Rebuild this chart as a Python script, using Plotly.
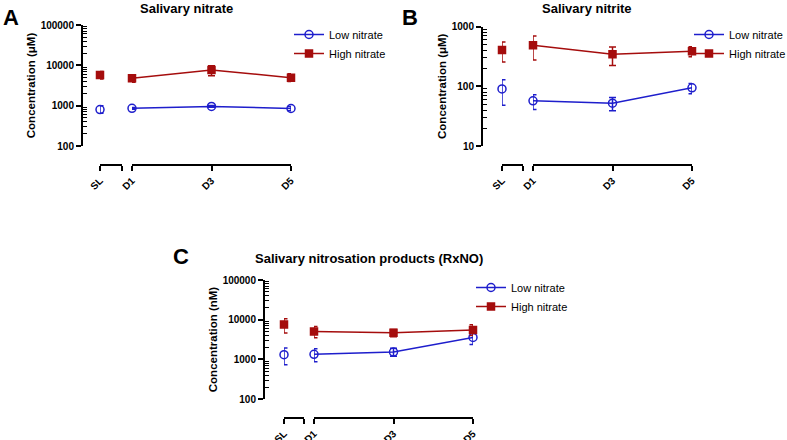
import plotly.graph_objects as go

W, H = 787, 440

# x categories: SL sits on its own short axis, D1-D5 on the main one
sl_label = ["SL"]
sl_x = [0]
day_labels = ["D1", "D3", "D5"]
day_x = [1, 3, 5]

# values in order SL, D1, D3, D5 (mean, upper and lower end of error bar)
nitrate_low = [800, 860, 960, 850]
nitrate_low_hi = [1000, 900, 1010, 960]
nitrate_low_lo = [650, 820, 910, 750]
nitrate_high = [5750, 4760, 7660, 4950]
nitrate_high_hi = [7000, 5750, 9800, 6200]
nitrate_high_lo = [4600, 3800, 5500, 3950]

nitrite_low = [90, 57, 52, 94]
nitrite_low_hi = [129, 72, 65, 111]
nitrite_low_lo = [48, 41, 39, 75]
nitrite_high = [404, 485, 342, 384]
nitrite_high_hi = [552, 696, 454, 460]
nitrite_high_lo = [254, 274, 223, 312]

rxno_low = [1310, 1335, 1527, 3565]
rxno_low_hi = [1925, 1850, 1890, 4670]
rxno_low_lo = [735, 874, 1190, 2380]
rxno_high = [7570, 5040, 4670, 5450]
rxno_high_hi = [10500, 6730, 5660, 7420]
rxno_high_lo = [4580, 3500, 3710, 4000]

ticks_a = [100, 1000, 10000, 100000]
ticks_b = [10, 100, 1000]
ticks_c = [100, 1000, 10000, 100000]

BLUE = "#1E1ECC"
RED = "#A50D0D"
FONT = "Liberation Sans, Arial, sans-serif"


def fx(px):
    return px / W


def fy(py):
    return 1 - py / H


def minor_vals(majors):
    out = []
    for m in majors[:-1]:
        out += [m * k for k in range(2, 10)]
    return out


fig = go.Figure()
layout = {}

panels = [
    # n, letter, title, ytitle, ticks, data, geometry (px)
    dict(n=1, letter="A", title="Salivary nitrate", ytitle="Concentration (μM)", ticks=ticks_a,
         low=(nitrate_low, nitrate_low_hi, nitrate_low_lo),
         high=(nitrate_high, nitrate_high_hi, nitrate_high_lo),
         yx=82, ytop=25, ybot=146, xaxy=165, sl=(100, 122), d=(132, 291),
         legx=289, legy=20, letx=1, lety=3, tx=186, ty=8),
    dict(n=2, letter="B", title="Salivary nitrite", ytitle="Concentration (μM)", ticks=ticks_b,
         low=(nitrite_low, nitrite_low_hi, nitrite_low_lo),
         high=(nitrite_high, nitrite_high_hi, nitrite_high_lo),
         yx=482, ytop=26.5, ybot=146, xaxy=165, sl=(502, 523), d=(533, 692),
         legx=689, legy=20, letx=400, lety=3, tx=587, ty=8),
    dict(n=3, letter="C", title="Salivary nitrosation products (RxNO)", ytitle="Concentration (nM)", ticks=ticks_c,
         low=(rxno_low, rxno_low_hi, rxno_low_lo),
         high=(rxno_high, rxno_high_hi, rxno_high_lo),
         yx=264, ytop=280, ybot=399, xaxy=418, sl=(284, 304), d=(314, 473),
         legx=471, legy=273, letx=171, lety=242, tx=369, ty=258),
]

annotations = []
for p in panels:
    n = p["n"]
    ya = "y" if n == 1 else f"y{n}"
    xs = f"x{2 * n - 1}" if n > 1 else "x"
    xd = f"x{2 * n}"
    leg = "legend" if n == 1 else f"legend{n}"

    for name, (mean, hi, lo), color, sym in [
        ("Low nitrate", p["low"], BLUE, "circle-open"),
        ("High nitrate", p["high"], RED, "square"),
    ]:
        err = dict(type="data", symmetric=False, thickness=1.5, width=3.5, color=color)
        marker = dict(symbol=sym, size=8 if sym == "circle-open" else 7, color=color,
                      line=dict(width=1.5, color=color))
        fig.add_trace(go.Scatter(
            x=sl_x, y=mean[:1], xaxis=xs, yaxis=ya, mode="markers",
            marker=marker, cliponaxis=False, showlegend=False,
            error_y=dict(err, array=[hi[0] - mean[0]], arrayminus=[mean[0] - lo[0]]),
        ))
        fig.add_trace(go.Scatter(
            x=day_x, y=mean[1:], xaxis=xd, yaxis=ya, mode="lines+markers", name=name,
            marker=marker, line=dict(color=color, width=1.5), cliponaxis=False, legend=leg,
            error_y=dict(err, array=[h - m for h, m in zip(hi[1:], mean[1:])],
                         arrayminus=[m - l for m, l in zip(mean[1:], lo[1:])]),
        ))

    t = p["ticks"]
    layout["yaxis" if n == 1 else f"yaxis{n}"] = dict(
        type="log", range=[len(str(t[0])) - 1, len(str(t[-1])) - 1],
        domain=[fy(p["ybot"]), fy(p["ytop"])], anchor="free", position=fx(p["yx"]),
        automargin=False,
        showline=True, linewidth=2, linecolor="black", showgrid=False, zeroline=False,
        ticks="outside", ticklen=5, tickwidth=2, tickcolor="black",
        tickmode="array", tickvals=t, ticktext=[str(v) for v in t],
        tickfont=dict(family=FONT, size=10, color="black", weight="bold"),
        minor=dict(ticks="inside", ticklen=4, tickwidth=1.2, tickcolor="black",
                   tickvals=minor_vals(t), showgrid=False),
        title=dict(text=p["ytitle"], standoff=2,
                   font=dict(family=FONT, size=11.5, color="black", weight="bold")),
    )
    common_x = dict(anchor="free", position=fy(p["xaxy"]), automargin=False, showline=True, linewidth=2,
                    linecolor="black", showgrid=False, zeroline=False, ticks="outside",
                    ticklen=5, tickwidth=2, tickcolor="black", tickangle=-45,
                    tickfont=dict(family=FONT, size=10, color="black", weight="bold"))
    layout["xaxis" if n == 1 else f"xaxis{2 * n - 1}"] = dict(
        common_x, domain=[fx(p["sl"][0]), fx(p["sl"][1])], range=[0, 1],
        tickmode="array", tickvals=sl_x + [1], ticktext=sl_label + [""])
    layout[f"xaxis{2 * n}"] = dict(
        common_x, domain=[fx(p["d"][0]), fx(p["d"][1])], range=[1, 5],
        tickmode="array", tickvals=day_x, ticktext=day_labels)
    layout[leg] = dict(x=fx(p["legx"]), y=fy(p["legy"]), xanchor="left", yanchor="top",
                       bgcolor="rgba(0,0,0,0)", font=dict(family=FONT, size=11, color="black"))

    annotations.append(dict(text=p["letter"], x=fx(p["letx"]), y=fy(p["lety"]), xref="paper", yref="paper",
                            xanchor="left", yanchor="top", showarrow=False,
                            font=dict(family=FONT, size=22, color="black", weight="bold")))
    annotations.append(dict(text=p["title"], x=fx(p["tx"]), y=fy(p["ty"]), xref="paper", yref="paper",
                            xanchor="center", yanchor="middle", showarrow=False,
                            font=dict(family=FONT, size=13, color="black", weight="bold")))

fig.update_layout(
    width=W, height=H, margin=dict(l=0, r=0, t=0, b=0, autoexpand=False),
    plot_bgcolor="white", paper_bgcolor="white",
    annotations=annotations, **layout,
)
# drop the default 8px page margin so the figure fills the window exactly
fig.write_html("out.html", config={"displayModeBar": False},
               post_script="document.body.style.margin='0';document.body.style.overflow='hidden';")
